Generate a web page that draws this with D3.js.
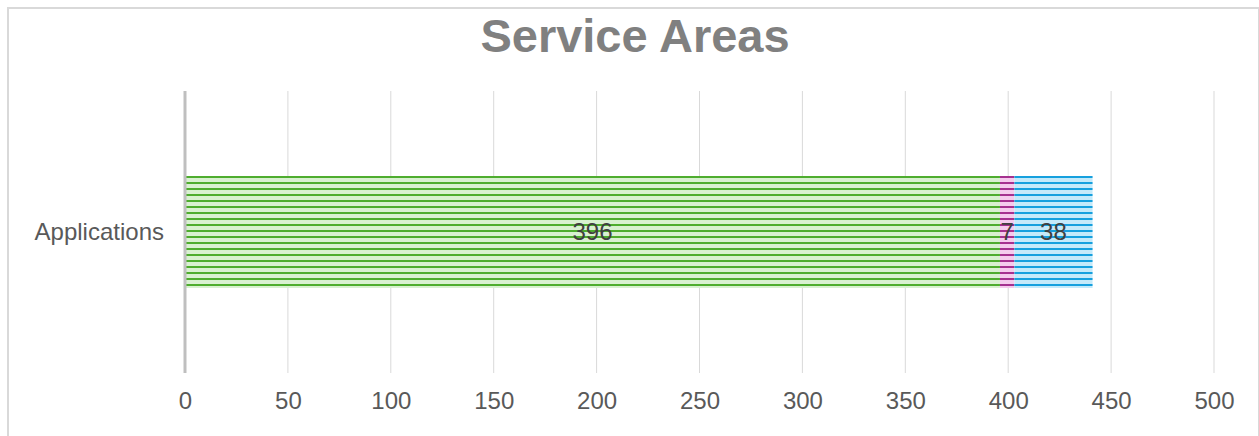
<!DOCTYPE html>
<html>
<head>
<meta charset="utf-8">
<script src="https://cdn.jsdelivr.net/npm/d3@7"></script>
<style>
  body { margin: 0; background: #fff; }
  svg { display: block; font-family: "Liberation Sans", Arial, sans-serif; }
</style>
</head>
<body>
<svg id="chart"></svg>
<script>
const categories = ["Applications"];
const seriesNames = ["A", "B", "C"];
const seriesValues = [[396], [7], [38]];
const xTicks = [0, 50, 100, 150, 200, 250, 300, 350, 400, 450, 500];

const width = 1259, height = 436;
const margin = { top: 91, right: 45, bottom: 63, left: 185 };

// dark stripe, light fill per series
const colors = [
    { dark: "#4ead2e", light: "#d9f1d1" },
    { dark: "#a5308f", light: "#f5cbed" },
    { dark: "#16a0de", light: "#c5eafa" }
];

const svg = d3.select("#chart").attr("width", width).attr("height", height);

svg.append("rect")
    .attr("x", 8).attr("y", 8)
    .attr("width", width - 8).attr("height", height)
    .attr("fill", "none").attr("stroke", "#d9d9d9").attr("stroke-width", 2);

svg.append("text")
    .attr("x", 635).attr("y", 52)
    .attr("text-anchor", "middle")
    .attr("font-size", 47).attr("font-weight", "bold")
    .attr("fill", "#808080")
    .text("Service Areas");

const x = d3.scaleLinear()
    .domain([0, 500])
    .range([margin.left, width - margin.right]);

const y = d3.scaleBand()
    .domain(categories)
    .range([margin.top, height - margin.bottom])
    .padding(0.4315);

// stacked data
const stacked = categories.map((c, ci) => {
    let acc = 0;
    return seriesValues.map((vals, si) => {
        const v = vals[ci];
        const seg = { cat: c, series: si, x0: acc, x1: acc + v, value: v };
        acc += v;
        return seg;
    });
}).flat();

const defs = svg.append("defs");
colors.forEach((c, i) => {
    const p = defs.append("pattern")
        .attr("id", "stripe" + i)
        .attr("patternUnits", "userSpaceOnUse")
        .attr("x", 0).attr("y", y(categories[0]))
        .attr("width", 8).attr("height", 6);
    p.append("rect").attr("width", 8).attr("height", 6).attr("fill", c.light);
    p.append("rect").attr("width", 8).attr("height", 2).attr("fill", c.dark);
});

// gridlines
svg.append("g")
    .selectAll("line")
    .data(xTicks.slice(1))
    .join("line")
    .attr("x1", d => x(d)).attr("x2", d => x(d))
    .attr("y1", margin.top).attr("y2", height - margin.bottom)
    .attr("stroke", "#d9d9d9").attr("stroke-width", 1);

// x axis labels
svg.append("g")
    .attr("transform", `translate(0,${height - margin.bottom})`)
    .call(d3.axisBottom(x).tickValues(xTicks).tickSize(0).tickPadding(19))
    .call(g => g.select(".domain").remove())
    .call(g => g.selectAll("text")
        .attr("font-size", 24).attr("fill", "#595959")
        .attr("font-family", "Liberation Sans, Arial, sans-serif"));

// y axis labels
svg.append("g")
    .attr("transform", `translate(${margin.left},0)`)
    .call(d3.axisLeft(y).tickSize(0).tickPadding(21))
    .call(g => g.select(".domain").remove())
    .call(g => g.selectAll("text")
        .attr("font-size", 24).attr("fill", "#595959")
        .attr("font-family", "Liberation Sans, Arial, sans-serif"));

// bars
svg.append("g")
    .selectAll("rect")
    .data(stacked)
    .join("rect")
    .attr("x", d => x(d.x0))
    .attr("width", d => x(d.x1) - x(d.x0))
    .attr("y", d => y(d.cat))
    .attr("height", y.bandwidth())
    .attr("fill", d => `url(#stripe${d.series})`);

// value labels
svg.append("g")
    .selectAll("text")
    .data(stacked)
    .join("text")
    .attr("x", d => (x(d.x0) + x(d.x1)) / 2)
    .attr("y", d => y(d.cat) + y.bandwidth() / 2)
    .attr("dy", "0.35em")
    .attr("text-anchor", "middle")
    .attr("font-size", 24).attr("fill", "#404040")
    .text(d => d.value);

// zero axis line
svg.append("line")
    .attr("x1", x(0)).attr("x2", x(0))
    .attr("y1", margin.top).attr("y2", height - margin.bottom)
    .attr("stroke", "#bfbfbf").attr("stroke-width", 3);
</script>
</body>
</html>
